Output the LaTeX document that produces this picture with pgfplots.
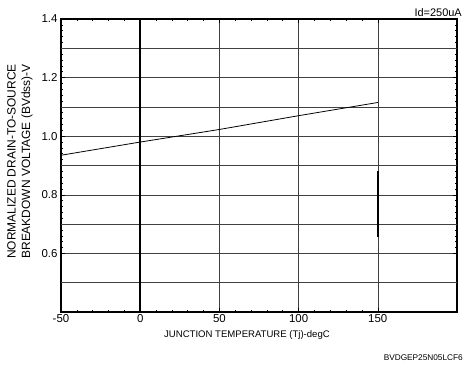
\documentclass[border=0pt]{standalone}
\usepackage{pgfplots}
\pgfplotsset{compat=1.18}
\usepackage{fontspec}
\setmainfont{Liberation Sans}
\begin{document}
\begin{tikzpicture}
\begin{axis}[
  scale only axis, width=396bp, height=293bp,
  xmin=-50, xmax=200, ymin=0.4, ymax=1.4,
  xtick={-50,0,50,100,150},
  ytick={0.6,0.8,1.0,1.2,1.4},
  yticklabel style={/pgf/number format/.cd,fixed,fixed zerofill,precision=1},
  minor x tick num=4, minor y tick num=9,
  tick align=inside, major tick length=4pt, minor tick length=2.5pt,
  extra y ticks={0.5,0.7,0.9,1.1,1.3}, extra y tick labels={},
  extra y tick style={grid=major, major tick length=0pt},
  ymajorgrids, xmajorgrids,
  grid style={black!75, line width=0.6pt},
  axis line style={line width=2pt},
  tick style={black, line width=0.6pt},
  every tick label/.append style={font=\fontsize{11.5}{12}\selectfont},
  xticklabel style={yshift=1pt},
  /pgf/number format/assume math mode=true,
  clip=false,
]
\addplot[black, line width=0.8pt] coordinates {(-50,0.935) (0,0.98) (50,1.023) (100,1.07) (150,1.115)};
\addplot[black, line width=1.6pt] coordinates {(0,0.4) (0,1.4)};
\addplot[black, line width=1.5pt] coordinates {(150,0.88) (150,0.655)};
\node[anchor=east, font=\fontsize{11}{12}\selectfont, inner sep=0pt] at ([xshift=5bp, yshift=6bp]rel axis cs:1,1) {Id=250uA};
\node[anchor=east, font=\fontsize{8.3}{9}\selectfont, inner sep=0pt] at ([xshift=6bp, yshift=-46bp]rel axis cs:1,0) {BVDGEP25N05LCF6};
\node[font=\fontsize{9.6}{10}\selectfont, inner sep=0pt] at ([xshift=-12bp, yshift=-23bp]rel axis cs:0.5,0) {JUNCTION TEMPERATURE (Tj)-degC};
\node[rotate=90, align=center, font=\fontsize{12}{14.5}\selectfont, inner sep=0pt] at ([xshift=-41bp, yshift=4bp]rel axis cs:0,0.5) {NORMALIZED DRAIN-TO-SOURCE\\BREAKDOWN VOLTAGE (BVdss)-V};
\end{axis}
\path (current axis.south west) ++(-61bp,-57bp) rectangle ++(466bp,369bp);
\end{tikzpicture}
\end{document}
